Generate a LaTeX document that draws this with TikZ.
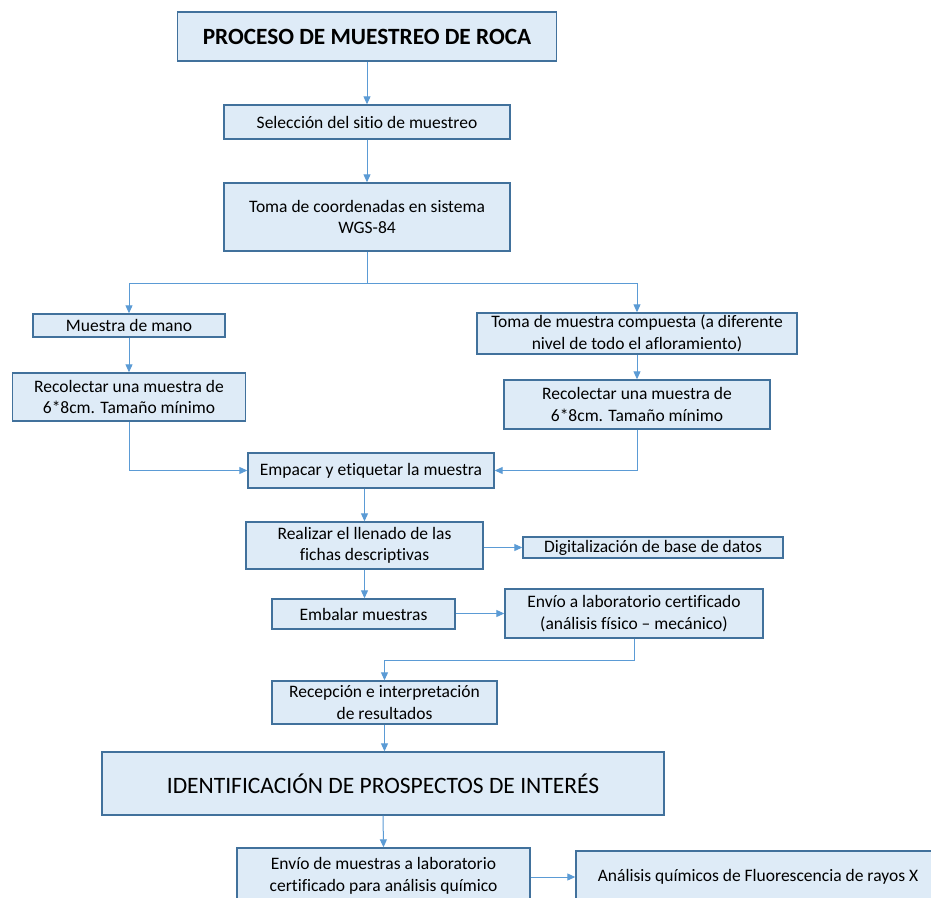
\documentclass[tikz,border=0pt]{standalone}
\usepackage{fontspec}
\setmainfont{Carlito}[Ligatures={NoCommon}]
\usetikzlibrary{arrows.meta}
\definecolor{boxfill}{HTML}{DEEBF7}
\definecolor{boxline}{HTML}{41719C}
\definecolor{arrline}{HTML}{5B9BD5}
\tikzset{
  box/.style={draw=boxline, fill=boxfill, line width=1.4pt, rectangle, inner sep=0pt, align=center, font=\fontsize{17.5}{21.5}\selectfont},
  arr/.style={draw=arrline, line width=1pt, -{Triangle[length=8pt,width=7pt]}},
  ln/.style={draw=arrline, line width=1pt},
}
\begin{document}
\begin{tikzpicture}[x=1pt,y=-1pt]
\clip (0,0) rectangle (931,897);
\fill[white] (0,0) rectangle (931,897);
\node[box, minimum width=379pt, minimum height=49pt, font=\fontsize{23.3}{26}\selectfont\bfseries] (t) at (367,36.5) {PROCESO DE MUESTREO DE ROCA};
\node[box, minimum width=286pt, minimum height=34pt] (sel) at (367,122) {Selección del sitio de muestreo};
\node[box, minimum width=286pt, minimum height=68pt] (coor) at (367,217) {Toma de coordenadas en sistema\\WGS-84};
\node[box, minimum width=192pt, minimum height=23pt] (mano) at (129,325.5) {Muestra de mano};
\node[box, minimum width=320pt, minimum height=41pt] (comp) at (637,333.5) {Toma de muestra compuesta (a diferente\\nivel de todo el afloramiento)};
\node[box, minimum width=233pt, minimum height=48pt] (recL) at (129,397) {Recolectar una muestra de\\6*8cm. Tamaño mínimo};
\node[box, minimum width=266pt, minimum height=49pt] (recR) at (637,404.5) {Recolectar una muestra de\\6*8cm. Tamaño mínimo};
\node[box, minimum width=246pt, minimum height=35pt] (emp) at (371,470.5) {Empacar y etiquetar la muestra};
\node[box, minimum width=237pt, minimum height=47pt] (real) at (364.5,545.5) {Realizar el llenado de las\\fichas descriptivas};
\node[box, minimum width=260pt, minimum height=21pt] (dig) at (653,547.5) {Digitalización de base de datos};
\node[box, minimum width=183pt, minimum height=30pt] (emb) at (363.5,614) {Embalar muestras};
\node[box, minimum width=258pt, minimum height=49pt] (env) at (634,613.5) {Envío a laboratorio certificado\\(análisis físico – mecánico)};
\node[box, minimum width=225pt, minimum height=43pt] (rec) at (384.5,702.5) {Recepción e interpretación\\de resultados};
\node[box, minimum width=562pt, minimum height=63pt, font=\fontsize{23.5}{26}\selectfont] (iden) at (383,783.5) {IDENTIFICACIÓN DE PROSPECTOS DE INTERÉS};
\node[box, minimum width=293pt, minimum height=56pt] (envm) at (383.5,876) {Envío de muestras a laboratorio\\certificado para análisis químico};
\node[box, minimum width=364pt, minimum height=52pt] (ana) at (758,877) {Análisis químicos de Fluorescencia de rayos X};
\coordinate (sp) at (367,283);
\draw[arr] (t.south) -- (sel.north);
\draw[arr] (sel.south) -- (coor.north);
\draw[ln] (coor.south) -- (sp);
\draw[arr] (sp) -| (mano.north);
\draw[arr] (sp) -| (comp.north);
\draw[arr] (mano.south) -- (recL.north);
\draw[arr] (comp.south) -- (recR.north);
\draw[arr] (recL.south) |- (emp.west);
\draw[arr] (recR.south) |- (emp.east);
\draw[arr] (real.north |- emp.south) -- (real.north);
\draw[arr] (real.east |- dig.west) -- (dig.west);
\draw[arr] (real.south) -- (real.south |- emb.north);
\draw[arr] (emb.east |- env.west) -- (env.west);
\draw[arr] (env.south) -- ++(0,22) -| (rec.north);
\draw[arr] (rec.south) -- (rec.south |- iden.north);
\draw[arr] (iden.south) -- (envm.north);
\draw[arr] (envm.east |- ana.west) -- (ana.west);
\end{tikzpicture}
\end{document}
